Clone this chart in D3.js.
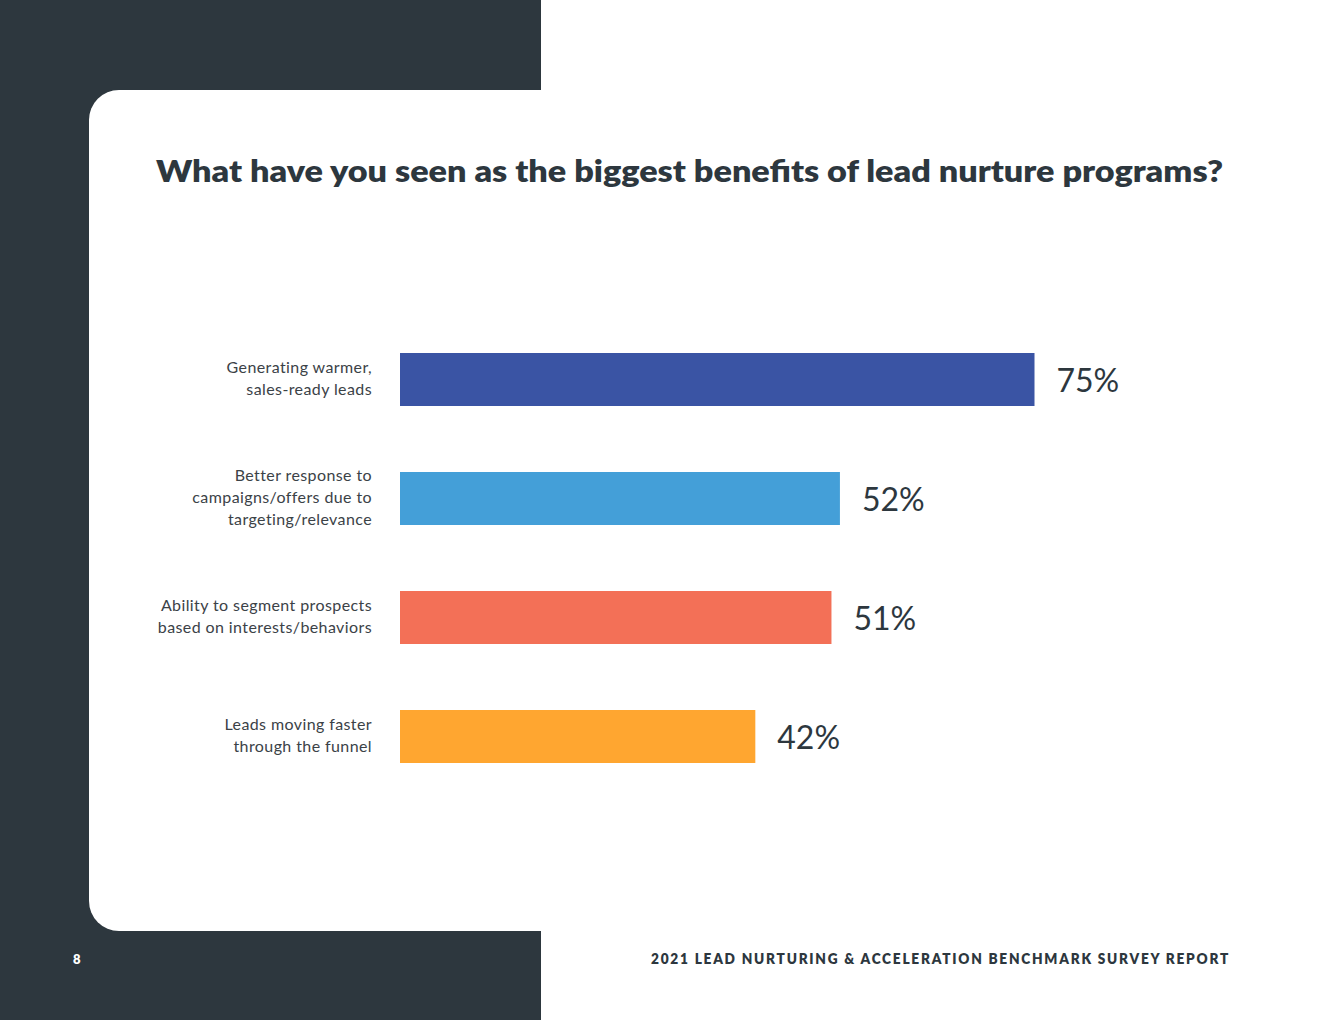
<!DOCTYPE html>
<html>
<head>
<meta charset="utf-8">
<script src="https://cdn.jsdelivr.net/npm/d3@7"></script>
<style>
  html, body { margin: 0; padding: 0; background: #fff; }
  svg { display: block; }
</style>
</head>
<body>
<svg id="chart" width="1320" height="1020"></svg>
<script>
// chart data
const categories = [
	["Generating warmer,", "sales-ready leads"],
	["Better response to", "campaigns/offers due to", "targeting/relevance"],
	["Ability to segment prospects", "based on interests/behaviors"],
	["Leads moving faster", "through the funnel"]
];
const values = [75, 52, 51, 42];
const barColors = ["#3a54a4", "#449fd8", "#f37057", "#ffa630"];
const title = "What have you seen as the biggest benefits of lead nurture programs?";
const pageNumber = "8";
const footerText = "2021 LEAD NURTURING & ACCELERATION BENCHMARK SURVEY REPORT";

function draw() {
	const dark = "#2d373e";
	const svg = d3.select("#chart");

	// page background: dark block on the left with the white card over it
	svg.append("rect").attr("x", 0).attr("y", 0).attr("width", 541).attr("height", 1020).attr("fill", dark);
	svg.append("path")
		.attr("d", "M119,90 H1320 V931 H119 A30,30 0 0 1 89,901 V120 A30,30 0 0 1 119,90 Z")
		.attr("fill", "#fff");

	svg.append("text")
		.attr("x", 156).attr("y", 182)
		.attr("textLength", 1067).attr("lengthAdjust", "spacingAndGlyphs")
		.style("font-family", "Lato, sans-serif").style("font-weight", 800)
		.style("font-size", "31px").attr("fill", dark)
		.text(title);

	const idx = values.map((d, i) => i);

	const x = d3.scaleLinear().domain([0, 100]).range([400, 1246]);
	const y = d3.scaleBand().domain(idx).range([320, 796])
		.paddingInner(66 / 119).paddingOuter(33 / 119);

	const g = svg.append("g");

	g.selectAll(".bar")
		.data(idx)
		.enter()
		.append("rect")
		.classed("bar", true)
		.attr("x", x(0))
		.attr("y", i => y(i))
		.attr("width", i => x(values[i]) - x(0))
		.attr("height", y.bandwidth())
		.attr("fill", i => barColors[i]);

	g.selectAll(".val")
		.data(idx)
		.enter()
		.append("text")
		.classed("val", true)
		.attr("x", i => x(values[i]) + 22)
		.attr("y", i => y(i) + y.bandwidth() / 2 + 12)
		.style("font-family", "Lato, sans-serif").style("font-weight", 400)
		.style("font-size", "32px").attr("fill", dark)
		.text(i => values[i] + "%");

	const lineH = 22;
	const labels = g.selectAll(".cat")
		.data(idx)
		.enter()
		.append("text")
		.classed("cat", true)
		.attr("text-anchor", "end")
		.style("font-family", "Lato, sans-serif")
		.style("font-size", "16px").style("letter-spacing", "0.4px")
		.attr("fill", "#3b4247");

	labels.each(function (i) {
		const lines = categories[i];
		const mid = y(i) + y.bandwidth() / 2 - 2;
		const top = mid - (lines.length - 1) * lineH / 2;
		d3.select(this).selectAll("tspan")
			.data(lines)
			.enter()
			.append("tspan")
			.attr("x", 372)
			.attr("y", (l, j) => top + j * lineH + 6)
			.text(l => l);
	});

	// footer
	svg.append("text")
		.attr("x", 73).attr("y", 964)
		.style("font-family", "Lato, sans-serif").style("font-weight", 800)
		.style("font-size", "13px").attr("fill", "#fff")
		.text(pageNumber);

	svg.append("text")
		.attr("x", 651).attr("y", 964)
		.attr("textLength", 579).attr("lengthAdjust", "spacingAndGlyphs")
		.style("font-family", "Lato, sans-serif").style("font-weight", 800)
		.style("font-size", "14px").style("letter-spacing", "1.8px")
		.attr("fill", dark)
		.text(footerText);
}

window.addEventListener('load', draw);
</script>
</body>
</html>
